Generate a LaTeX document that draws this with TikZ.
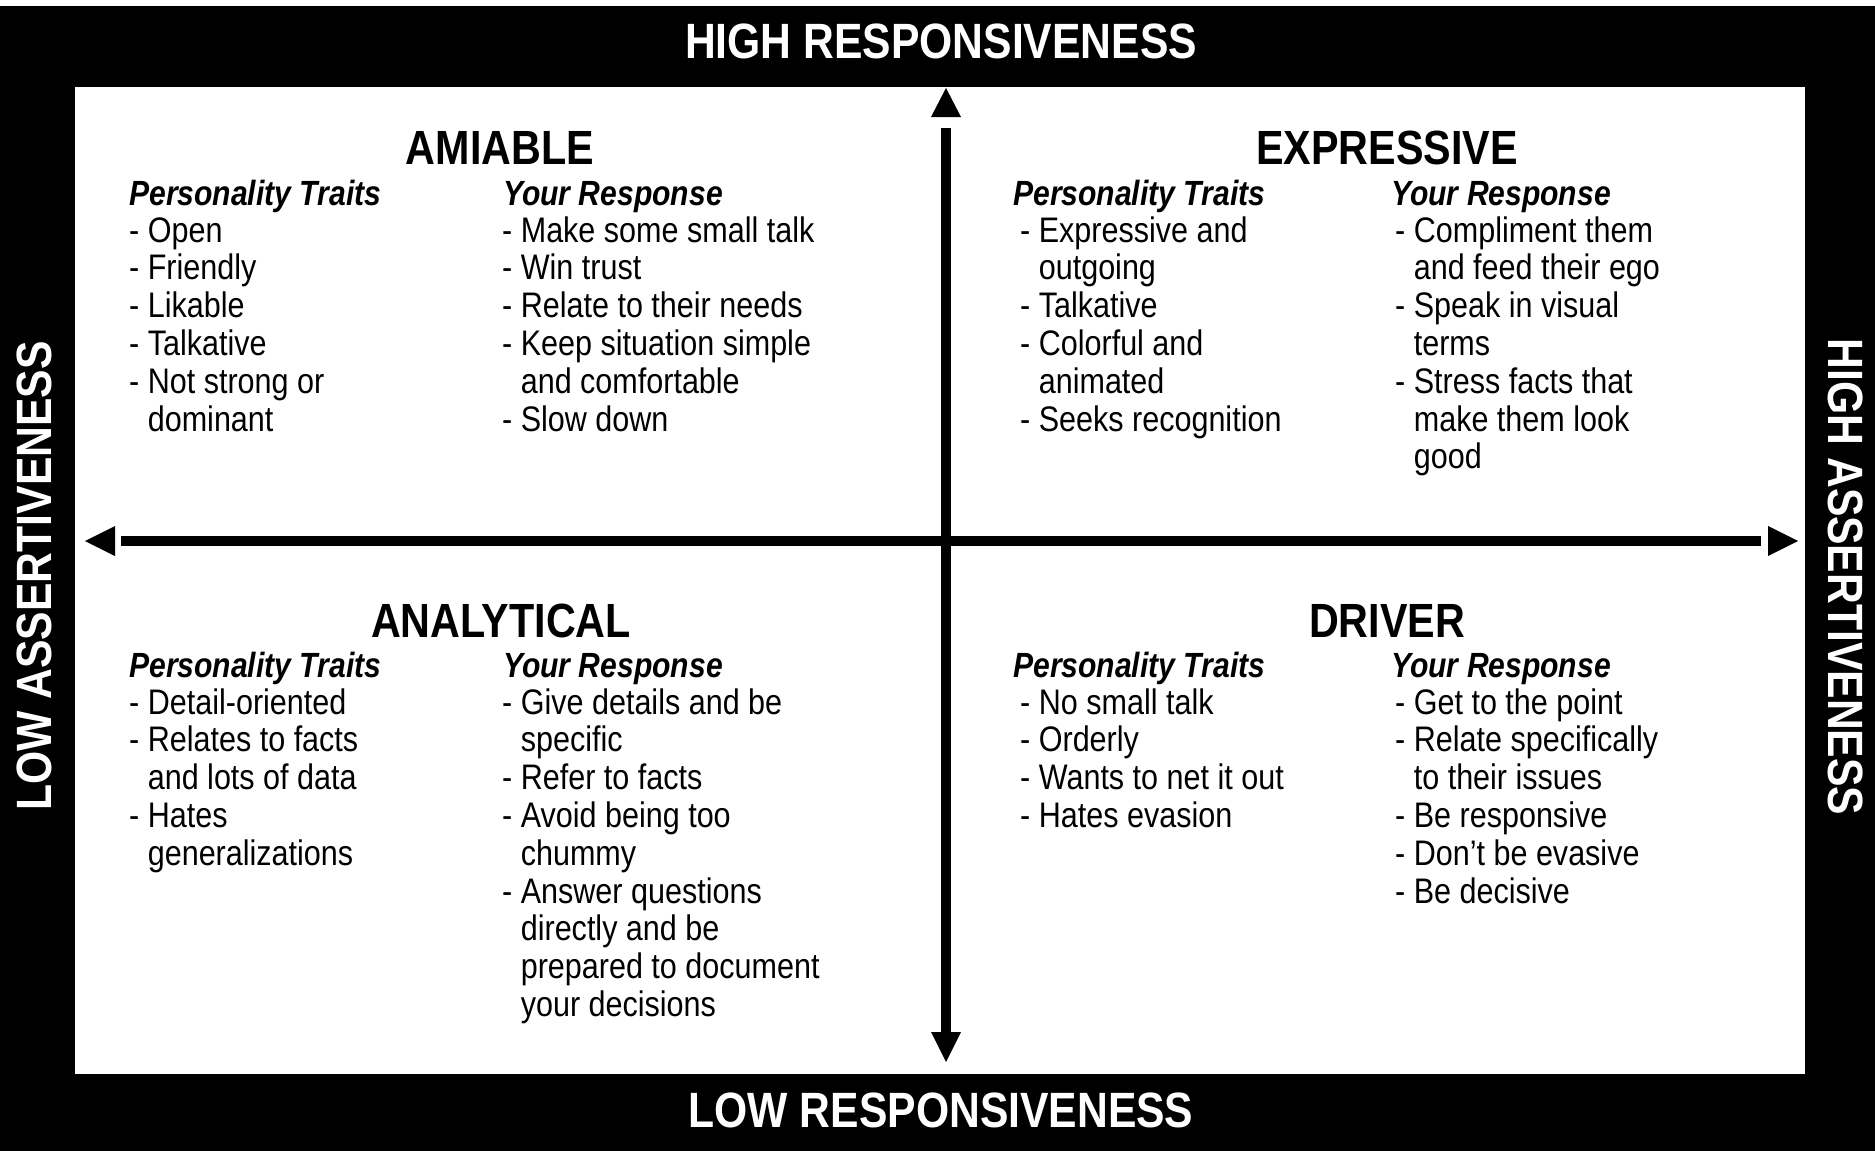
\documentclass[tikz,border=0pt]{standalone}
\usepackage{fontspec}
\setmainfont[FakeStretch=0.86]{Liberation Sans}
% blank space that lines a wrapped line up with the text after "- "
\newcommand\cnt{\hphantom{- }}
% one column of list lines, one node per line
\newcommand\linelist[4]{%
  \foreach \txt [count=\i] in {#4} {%
    \node[body] (#1-\i) at (#2,{#3+(\i-1)*37.8}) {\txt};%
  }%
}
\begin{document}
\begin{tikzpicture}[x=1pt,y=-1pt,
  body/.style={anchor=base west, inner sep=0pt, font=\fontsize{35.5}{38}\selectfont},
  colhead/.style={anchor=base west, inner sep=0pt, font=\fontsize{35}{40}\selectfont\bfseries\itshape},
  quadtitle/.style={anchor=center, inner sep=0pt, font=\fontsize{48}{52}\selectfont\bfseries},
  axislabel/.style={anchor=center, inner sep=0pt, text=white, font=\fontsize{49.6}{54}\selectfont\bfseries},
  axisline/.style={line width=10pt},
  axishead/.style={fill=black, draw=none}]

% page, dark frame and white field
\useasboundingbox (0,0) rectangle (1875,1151);
\fill[white] (0,0) rectangle (1875,1151);
\fill[black] (0,6) rectangle (1875,1151);
\fill[white] (75,87) rectangle (1805,1074);

% axis labels on the frame
\node[axislabel] (hiresp) at (941,41) {HIGH RESPONSIVENESS};
\node[axislabel] (loresp) at (941,1110) {LOW RESPONSIVENESS};
\node[axislabel, rotate=90] (loassert) at (34,576) {LOW ASSERTIVENESS};
\node[axislabel, rotate=-90] (hiassert) at (1846,577) {HIGH ASSERTIVENESS};

% vertical axis
\coordinate (vtop) at (946,128);
\coordinate (vbot) at (946,1032);
\draw[axisline] (vtop) -- (vbot);
\fill[axishead] (946,88) -- (961,117) -- (931,117) -- cycle;
\fill[axishead] (931,1032) -- (961,1032) -- (946,1062) -- cycle;

% horizontal axis
\coordinate (hleft) at (121,541);
\coordinate (hright) at (1761,541);
\draw[axisline] (hleft) -- (hright);
\fill[axishead] (85,541) -- (115,526) -- (115,556) -- cycle;
\fill[axishead] (1768,526) -- (1768,556) -- (1798,541) -- cycle;

% quadrant titles
\node[quadtitle] (amiable) at (500,148) {AMIABLE};
\node[quadtitle] (expressive) at (1387,148) {EXPRESSIVE};
\node[quadtitle] (analytical) at (501,621) {ANALYTICAL};
\node[quadtitle] (driver) at (1387,621) {DRIVER};

% column headings
\node[colhead] (am-pt) at (129,205) {Personality Traits};
\node[colhead] (am-yr) at (503,205) {Your Response};
\node[colhead] (ex-pt) at (1013,205) {Personality Traits};
\node[colhead] (ex-yr) at (1391,205) {Your Response};
\node[colhead] (an-pt) at (129,677) {Personality Traits};
\node[colhead] (an-yr) at (503,677) {Your Response};
\node[colhead] (dr-pt) at (1013,677) {Personality Traits};
\node[colhead] (dr-yr) at (1391,677) {Your Response};

% amiable
\linelist{amT}{129}{242}{- Open, - Friendly, - Likable, - Talkative, - Not strong or, \cnt dominant}
\linelist{amR}{502}{242}{- Make some small talk, - Win trust, - Relate to their needs, - Keep situation simple, \cnt and comfortable, - Slow down}

% expressive
\linelist{exT}{1020}{242}{- Expressive and, \cnt outgoing, - Talkative, - Colorful and, \cnt animated, - Seeks recognition}
\linelist{exR}{1395}{242}{- Compliment them, \cnt and feed their ego, - Speak in visual, \cnt terms, - Stress facts that, \cnt make them look, \cnt good}

% analytical
\linelist{anT}{129}{714}{- Detail-oriented, - Relates to facts, \cnt and lots of data, - Hates, \cnt generalizations}
\linelist{anR}{502}{714}{- Give details and be, \cnt specific, - Refer to facts, - Avoid being too, \cnt chummy, - Answer questions, \cnt directly and be, \cnt prepared to document, \cnt your decisions}

% driver
\linelist{drT}{1020}{714}{- No small talk, - Orderly, - Wants to net it out, - Hates evasion}
\linelist{drR}{1395}{714}{- Get to the point, - Relate specifically, \cnt to their issues, - Be responsive, - Don't be evasive, - Be decisive}

\end{tikzpicture}
\end{document}
